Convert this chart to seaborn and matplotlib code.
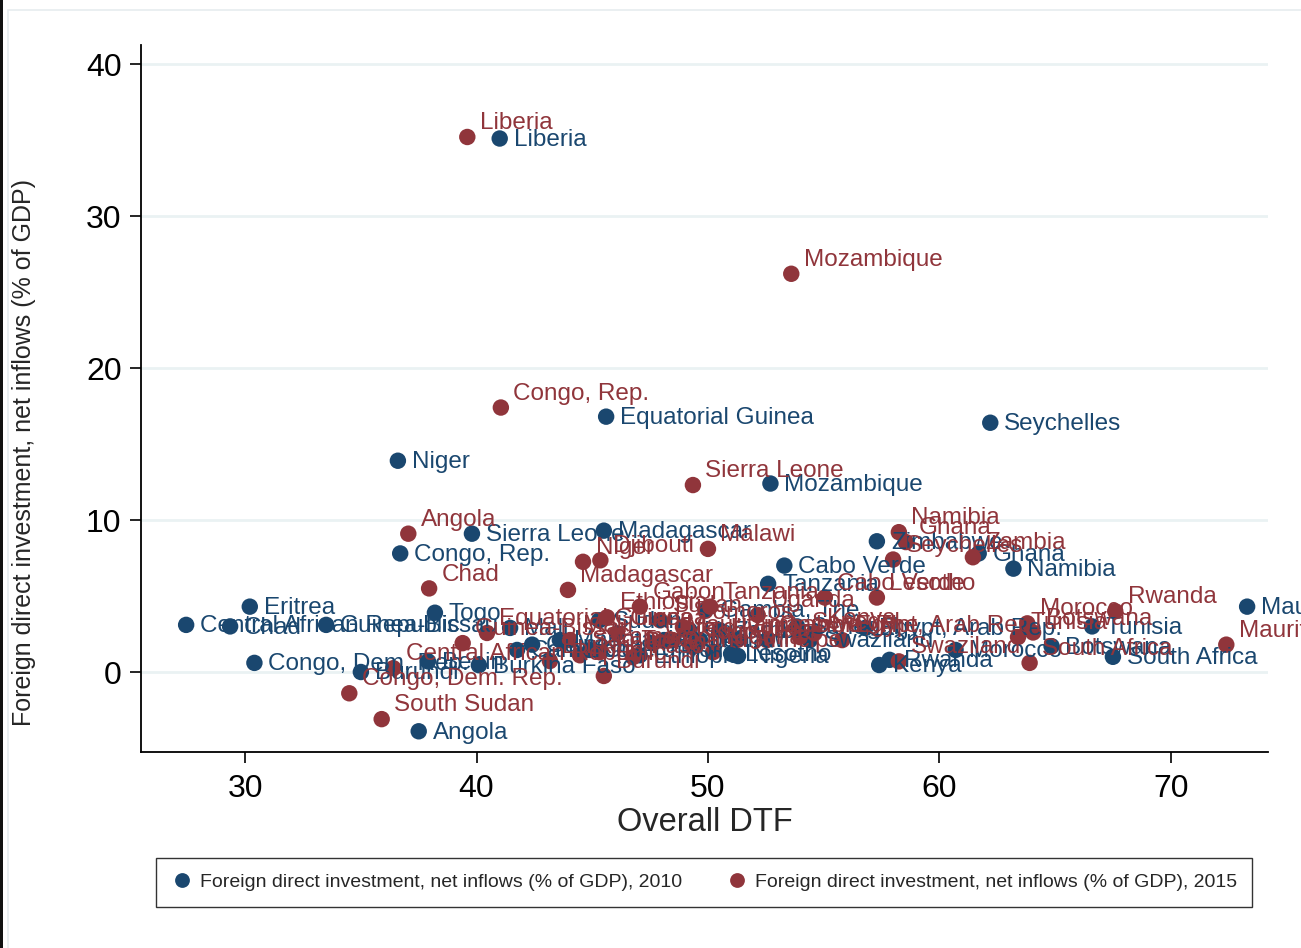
import pandas as pd
import matplotlib.pyplot as plt
import seaborn as sns
from matplotlib.patches import Rectangle

# 2010 observations (blue)
names_2010 = ["Liberia", "Equatorial Guinea", "Seychelles", "Niger", "Mozambique",
              "Sierra Leone", "Madagascar", "Congo, Rep.", "Zimbabwe", "Ghana",
              "Namibia", "Cabo Verde", "Tanzania", "Eritrea", "Central African Republic",
              "Chad", "Guinea-Bissau", "Togo", "Congo, Dem. Rep.", "Burundi",
              "Benin", "Burkina Faso", "Angola", "Lesotho", "Nigeria",
              "Kenya", "Rwanda", "Morocco", "Egypt, Arab Rep.", "Senegal",
              "Tunisia", "Botswana", "South Africa", "Mauritius", "Gambia, The",
              "Mali", "Guinea", "Cameroon", "Mauritania", "Cote d'Ivoire",
              "Ethiopia", "Gabon", "Uganda", "Malawi", "Zambia",
              "Swaziland", "Sudan"]
dtf_2010 = [41.0, 45.6, 62.2, 36.6, 52.7,
            39.8, 45.5, 36.7, 57.3, 61.7,
            63.2, 53.3, 52.6, 30.2, 27.45,
            29.35, 33.5, 38.2, 30.4, 35.0,
            37.9, 40.1, 37.5, 51.0, 51.3,
            57.4, 57.85, 60.7, 56.8, 53.85,
            66.6, 64.85, 67.5, 73.3, 49.9,
            41.45, 42.4, 41.75, 43.6, 44.9,
            47.05, 48.1, 49.2, 49.65, 50.5,
            54.4, 45.3]
fdi_2010 = [35.1, 16.8, 16.4, 13.9, 12.4,
            9.1, 9.3, 7.8, 8.6, 7.8,
            6.8, 7.0, 5.8, 4.3, 3.1,
            3.0, 3.1, 3.9, 0.6, 0.0,
            0.7, 0.45, -3.9, 1.2, 1.05,
            0.46, 0.8, 1.45, 2.9, 3.0,
            3.0, 1.7, 1.0, 4.3, 4.1,
            2.9, 1.8, 1.45, 2.1, 1.45,
            1.1, 2.1, 2.75, 2.1, 2.75,
            2.1, 3.4]

# 2015 observations (red)
names_2015 = ["Liberia", "Mozambique", "Congo, Rep.", "Sierra Leone", "Angola",
              "Malawi", "Djibouti", "Niger", "Madagascar", "Chad",
              "Namibia", "Ghana", "Seychelles", "Zambia", "Lesotho",
              "Cabo Verde", "Uganda", "Tanzania", "Gabon", "Ethiopia",
              "Equatorial Guinea", "Central African Republic", "Congo, Dem. Rep.", "South Sudan", "Guinea-Bissau",
              "Burkina Faso", "Burundi", "Mauritius", "Rwanda", "Morocco",
              "Botswana", "Tunisia", "Egypt, Arab Rep.", "Swaziland", "South Africa",
              "Senegal", "Kenya", "Nigeria", "Zimbabwe", "Gambia, The",
              "Mali", "Cameroon", "Guinea", "Benin", "Cote d'Ivoire",
              "Sudan", "Mauritania", "Comoros", "Togo", "Sao Tome and Principe"]
dtf_2015 = [39.6, 53.6, 41.05, 49.35, 37.05,
            50.0, 45.35, 44.6, 43.95, 37.95,
            58.25, 58.55, 58.0, 61.45, 57.3,
            55.05, 52.15, 50.1, 47.06, 45.64,
            40.45, 36.4, 34.5, 35.9, 39.4,
            43.17, 45.5, 72.4, 67.6, 63.8,
            64.05, 63.4, 55.8, 58.25, 63.9,
            53.97, 54.6, 50.22, 51.25, 52.55,
            44.04, 45.33, 46.07, 46.76, 47.62,
            47.93, 48.49, 48.92, 49.35, 44.47]
fdi_2015 = [35.2, 26.2, 17.4, 12.3, 9.1,
            8.1, 7.35, 7.25, 5.4, 5.5,
            9.2, 8.55, 7.4, 7.55, 4.9,
            4.9, 3.75, 4.3, 4.3, 3.6,
            2.57, 0.25, -1.4, -3.1, 1.9,
            0.72, -0.26, 1.8, 4.0, 3.2,
            2.6, 2.3, 2.1, 0.7, 0.6,
            2.3, 2.55, 1.3, 2.1, 2.1,
            2.1, 1.3, 2.55, 0.98, 1.9,
            3.4, 2.1, 2.96, 1.64, 1.1]

series_labels = ["Foreign direct investment, net inflows (% of GDP), 2010",
                 "Foreign direct investment, net inflows (% of GDP), 2015"]
palette = ["#1a476f", "#90353b"]

df = pd.concat([
    pd.DataFrame({"country": names_2010, "dtf": dtf_2010, "fdi": fdi_2010,
                  "series": series_labels[0]}),
    pd.DataFrame({"country": names_2015, "dtf": dtf_2015, "fdi": fdi_2015,
                  "series": series_labels[1]}),
])

sns.set_style("white")
plt.rcParams["font.family"] = ["Liberation Sans", "DejaVu Sans"]

fig = plt.figure(figsize=(13.01, 9.48), dpi=100)
# faint outer frame like the original graph region, dark edge on the left
fig.patches.append(Rectangle((8 / 1301, -0.1), 1.2, 1.1 - 10 / 948, transform=fig.transFigure,
                             fill=False, edgecolor="#e6ecef", linewidth=1.2))
fig.patches.append(Rectangle((0, 0), 2.5 / 1301, 1, transform=fig.transFigure,
                             facecolor="#111111", edgecolor="none"))
ax = fig.add_axes([0.1084, 0.2068, 0.8662, 0.7457])

sns.scatterplot(data=df, x="dtf", y="fdi", hue="series", hue_order=series_labels,
                palette=palette, s=140, edgecolor="none", ax=ax, zorder=3)

# country labels: 2010 to the right, 2015 up and to the right
for (name, x, y) in zip(names_2010, dtf_2010, fdi_2010):
    ax.annotate(name, (x, y), xytext=(10, -1), textcoords="offset points",
                va="center", ha="left", fontsize=17.5, color=palette[0],
                annotation_clip=False, zorder=4)
for (name, x, y) in zip(names_2015, dtf_2015, fdi_2015):
    ax.annotate(name, (x, y), xytext=(9, 10), textcoords="offset points",
                va="center", ha="left", fontsize=17.5, color=palette[1],
                annotation_clip=False, zorder=4)

ax.set_xlim(25.5, 74.2)
ax.set_ylim(-5.26, 41.25)
ax.set_xticks([30, 40, 50, 60, 70])
ax.set_yticks([0, 10, 20, 30, 40])
ax.grid(axis="y", color="#eaf2f3", linewidth=2)
ax.grid(axis="x", visible=False)
ax.set_axisbelow(True)

for side in ["top", "right"]:
    ax.spines[side].set_visible(False)
for side in ["left", "bottom"]:
    ax.spines[side].set_color("black")
    ax.spines[side].set_linewidth(1.3)

ax.tick_params(axis="both", which="major", direction="out", length=8, width=1.2,
               color="black", labelsize=23, labelcolor="black", left=True, bottom=True)
ax.tick_params(axis="x", pad=8)
ax.tick_params(axis="y", pad=6)
ax.set_xlabel("Overall DTF", fontsize=23.5, labelpad=2)
ax.set_ylabel("Foreign direct investment, net inflows (% of GDP)", fontsize=18)
ax.yaxis.set_label_coords(-0.093, 0.424)

sns.move_legend(ax, "upper center", bbox_to_anchor=(0.4996, -0.136), ncol=2,
                title=None, frameon=True, fancybox=False, fontsize=14,
                markerscale=0.9, handletextpad=0.35, columnspacing=2.3,
                borderpad=0.8, handlelength=1.1)
leg = ax.get_legend()
leg.get_frame().set_edgecolor("black")
leg.get_frame().set_linewidth(1.0)
for t in leg.get_texts():
    t.set_family(["Liberation Sans Narrow", "Liberation Sans", "DejaVu Sans"])

fig.savefig("out.png", dpi=100)
